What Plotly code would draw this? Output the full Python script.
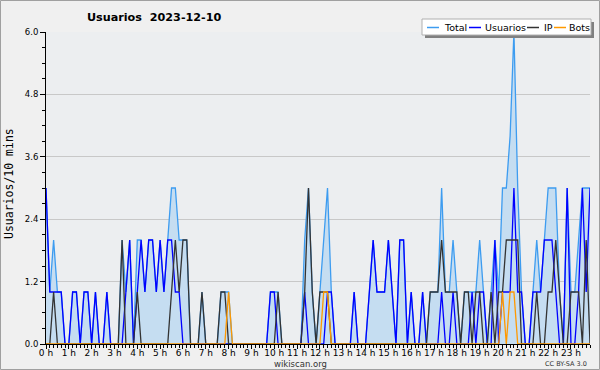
import plotly.graph_objects as go

# ---------------- data (10-minute slots, 144 per day) ----------------
hour_labels = [f"{h} h" for h in range(24)]
y_tick_vals = [0, 1.2, 2.4, 3.6, 4.8, 6.0]
y_tick_text = ["0.0", "1.2", "2.4", "3.6", "4.8", "6.0"]

usuarios = [3,1,1,1,1,0,0,1,1,0, 1,1,0,1,0,0,1,0,0,0,
            0,1,2,0,1,2,1,2,2,1, 2,1,2,2,1,1,0,0,0,0,
            0,0,0,0,0,0,0,0,0,0, 0,0,0,0,0,0,0,0,0,1,
            1,0,0,0,0,0,0,0,1,0, 0,0,0,0,1,1,0,0,0,0,
            0,1,0,0,0,1,2,1,1,1, 2,1,0,2,2,0,1,0,0,1,
            0,0,0,0,1,0,0,1,0,0, 0,0,1,0,1,1,0,0,2,0,
            1,1,1,3,1,1,0,0,1,1, 1,2,2,2,1,0,0,3,0,0,
            1,3,1,3]
ip = [0,0,1,0,0,0,0,0,0,0, 0,0,0,0,0,0,0,0,0,0,
      2,0,0,0,1,0,0,0,0,0, 0,0,0,1,2,1,2,2,0,0,
      0,1,0,0,0,0,1,1,0,0, 0,0,0,0,0,0,0,0,0,0,
      0,1,0,0,0,0,0,0,1,3, 1,0,1,1,1,0,0,0,0,0,
      0,0,0,0,0,0,0,0,0,0, 0,0,0,0,0,0,0,0,0,0,
      0,1,1,1,2,1,1,1,1,0, 1,1,0,1,1,0,0,1,0,1,
      1,2,2,2,2,0,0,0,0,1, 0,0,1,1,2,1,0,0,1,1,
      1,0,2,0]
bots = [0]*144
for slot in (48, 73, 74, 120, 122, 123):
    bots[slot] = 1
total = [3,1,2,1,1,0,0,1,1,0, 1,1,0,1,0,0,1,0,0,0,
         2,1,2,0,2,2,1,2,2,1, 2,1,2,3,3,2,2,2,0,0,
         0,1,0,0,0,0,1,1,1,0, 0,0,0,0,0,0,0,0,0,1,
         1,1,0,0,0,0,0,0,2,3, 1,0,1,2,3,1,0,0,0,0,
         0,1,0,0,0,1,2,1,1,1, 2,1,0,2,2,0,1,0,0,1,
         0,1,1,1,3,1,1,2,1,0, 1,1,1,1,2,1,0,1,2,1,
         3,3,4,6,3,1,0,0,1,2, 1,2,3,3,3,1,0,3,1,1,
         2,3,3,3]
slots = list(range(144))

# ---------------- layout helpers (pixel -> paper) ----------------
L, R, T, B = 46, 590, 32, 344
def px(x):
    return (x - L) / (R - L)
def py(y):
    return (B - y) / (B - T)

FONT = "DejaVu Sans, sans-serif"

fig = go.Figure()
fig.add_trace(go.Scatter(x=slots, y=total, mode="lines", name="Total",
                         line=dict(color="#3d9cf0", width=1.3),
                         fill="tozeroy", fillcolor="#c5ddf1"))
fig.add_trace(go.Scatter(x=slots, y=usuarios, mode="lines", name="Usuarios",
                         line=dict(color="#0000ff", width=1.3)))
fig.add_trace(go.Scatter(x=slots, y=ip, mode="lines", name="IP",
                         line=dict(color="#333333", width=1.3)))
fig.add_trace(go.Scatter(x=slots, y=bots, mode="lines", name="Bots",
                         line=dict(color="#ff9900", width=1.3)))

fig.update_layout(
    width=600, height=370,
    margin=dict(l=L, r=600 - R, t=T, b=370 - B, autoexpand=False),
    paper_bgcolor="#f0f0f0", plot_bgcolor="#eceef0",
    showlegend=False,
    font=dict(family=FONT, size=9, color="#000"),
)
fig.update_xaxes(
    range=[0, 143], tickmode="array",
    tickvals=[6 * h for h in range(24)], ticktext=hour_labels,
    ticks="outside", ticklen=4, tickcolor="#000", tickwidth=1,
    ticklabelstandoff=-4,
    showline=True, linecolor="#000", linewidth=1,
    showgrid=False, zeroline=False, automargin=False,
    tickfont=dict(family=FONT, size=9, color="#000"),
    minor=dict(tickmode="linear", tick0=0, dtick=1, ticks="outside",
               ticklen=3, tickcolor="#000", showgrid=False),
)
fig.update_yaxes(
    range=[0, 6], tickmode="array", tickvals=y_tick_vals, ticktext=y_tick_text,
    ticks="outside", ticklen=5, tickcolor="#000", tickwidth=1,
    showline=True, linecolor="#000", linewidth=1,
    showgrid=True, gridcolor="#c8c8c8", gridwidth=1, zeroline=False, automargin=False,
    tickfont=dict(family=FONT, size=8.5, color="#000"),
    minor=dict(tickmode="linear", tick0=0, dtick=0.3, ticks="outside",
               ticklen=3, tickcolor="#000", showgrid=False),
)

shapes = []
# outer border of the image
shapes.append(dict(type="rect", xref="paper", yref="paper",
                   x0=px(0.5), x1=px(599.5), y0=py(369.5), y1=py(0.5),
                   line=dict(color="#a0a0a0", width=1), layer="below"))
# legend shadow + box
shapes.append(dict(type="rect", xref="paper", yref="paper",
                   x0=px(425), x1=px(594), y0=py(38), y1=py(22),
                   fillcolor="#808080", line=dict(width=0), layer="above"))
shapes.append(dict(type="rect", xref="paper", yref="paper",
                   x0=px(422), x1=px(591), y0=py(35), y1=py(19),
                   fillcolor="#ffffff", line=dict(color="#b0b0b0", width=1), layer="above"))
legend_items = [("Total", "#3d9cf0", 427, 442),
                ("Usuarios", "#0000ff", 469, 483),
                ("IP", "#333333", 527, 542),
                ("Bots", "#ff9900", 554, 567)]
annotations = []
for name, color, lx, tx in legend_items:
    shapes.append(dict(type="line", xref="paper", yref="paper",
                       x0=px(lx), x1=px(lx + 12), y0=py(27.5), y1=py(27.5),
                       line=dict(color=color, width=1.5), layer="above"))
    annotations.append(dict(xref="paper", yref="paper", x=px(tx), y=py(27.5),
                            text=name, showarrow=False, xanchor="left", yanchor="middle",
                            font=dict(family=FONT, size=9.5, color="#000")))

annotations.append(dict(xref="paper", yref="paper", x=px(85), y=py(18),
                        text="<b>Usuarios&nbsp; 2023-12-10</b>", showarrow=False,
                        xanchor="left", yanchor="middle",
                        font=dict(family=FONT, size=11.2, color="#000")))
annotations.append(dict(xref="paper", yref="paper", x=px(9), y=py(184),
                        text="Usuarios/10 mins", showarrow=False, textangle=-90,
                        xanchor="center", yanchor="middle",
                        font=dict(family="DejaVu Sans Mono, monospace", size=11.5, color="#000")))
annotations.append(dict(xref="paper", yref="paper", x=px(300), y=py(363.5),
                        text="wikiscan.org", showarrow=False,
                        xanchor="center", yanchor="middle",
                        font=dict(family=FONT, size=8.5, color="#333")))
annotations.append(dict(xref="paper", yref="paper", x=px(589), y=py(364),
                        text="CC BY-SA 3.0", showarrow=False,
                        xanchor="right", yanchor="middle",
                        font=dict(family=FONT, size=6.5, color="#333")))

fig.update_layout(shapes=shapes, annotations=annotations)
fig.write_html("out.html", config={"displayModeBar": False},
               post_script="document.body.style.margin='0';")
